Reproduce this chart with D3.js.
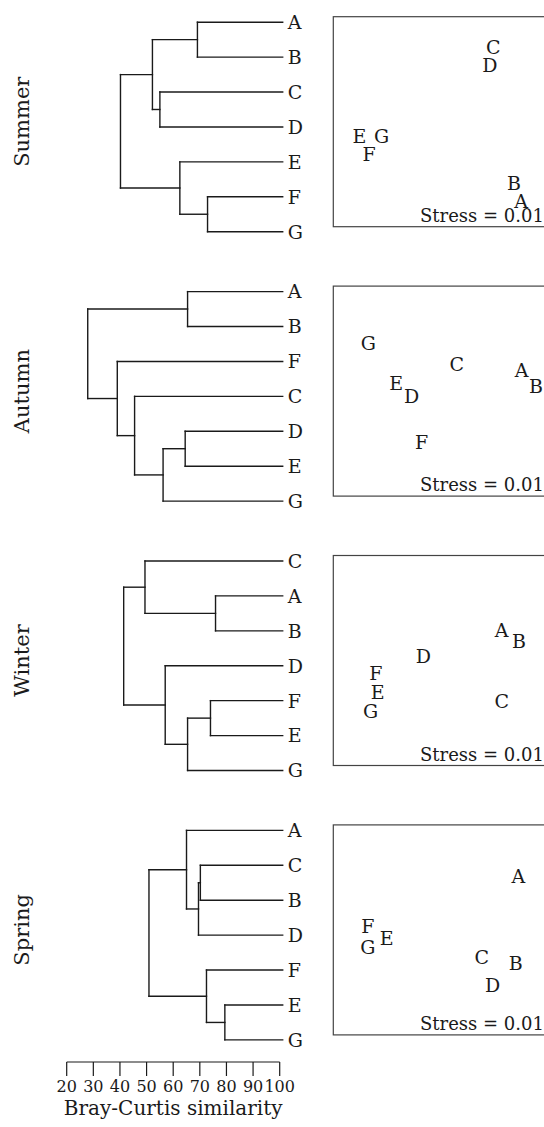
<!DOCTYPE html>
<html>
<head>
<meta charset="utf-8">
<script src="https://cdn.jsdelivr.net/npm/d3@7"></script>
<style>
    body { margin: 0; background: #fff; }
    #chart { width: 544px; height: 1127px; }
    text { font-family: 'DejaVu Serif', serif; fill: #1a1a1a; }
</style>
</head>
<body>
<div id="chart"></div>
<script>
// region Data
const seasons = ['Summer', 'Autumn', 'Winter', 'Spring'];

// dendrograms: [left, right, similarity]
const summerTree = [[['A', 'B', 69.1], ['C', 'D', 55], 52.2], ['E', ['F', 'G', 72.9], 62.5], 40.2];
const autumnTree = [['A', 'B', 65.4], ['F', ['C', [['D', 'E', 64.5], 'G', 56.2], 45.5], 39], 27.9];
const winterTree = [['C', ['A', 'B', 75.9], 49.4], ['D', [['F', 'E', 74], 'G', 65.4], 57], 41.4];
const springTree = [['A', [['C', 'B', 70.2], 'D', 69.5], 65], ['F', ['E', 'G', 79.4], 72.5], 50.9];

const sites = ['A', 'B', 'C', 'D', 'E', 'F', 'G'];
// NMDS ordination
const summerX = [89.4, 86, 76.2, 74.6, 12.4, 17.1, 23];
const summerY = [12.2, 20.7, 85.7, 77, 43.2, 34.6, 43.2];
const autumnX = [89.7, 96.5, 58.8, 37.3, 29.9, 42.1, 16.7];
const autumnY = [59.9, 52.4, 62.7, 47.6, 54, 25.7, 73];
const winterX = [80.2, 88.4, 80.2, 42.9, 21.1, 20.3, 17.8];
const winterY = [64.6, 59, 30.8, 51.9, 34.8, 44, 26];
const springX = [88.1, 86.9, 70.7, 75.9, 25.4, 16.4, 16.4];
const springY = [75.4, 34.1, 36.8, 23.8, 46, 51.9, 42];

const stress = ['0.01', '0.01', '0.01', '0.01'];
const simTicks = [20, 30, 40, 50, 60, 70, 80, 90, 100];
// endregion

const trees = [summerTree, autumnTree, winterTree, springTree];
const nmdsX = [summerX, autumnX, winterX, springX];
const nmdsY = [summerY, autumnY, winterY, springY];

let w = 544,
    h = 1127,
    rowTop = 16.7,
    rowStep = 269.4,
    boxSize = 210,
    boxLeft = 333.3,
    ink = '#1a1a1a';

let svg = d3.select('#chart')
    .append('svg')
    .attr('width', w)
    .attr('height', h);

const x = d3.scaleLinear()
    .domain([20, 100])
    .range([66.7, 279.7]);

function leafOrder(node, out) {
    if (typeof node === 'string') { out.push(node); return out; }
    leafOrder(node[0], out);
    leafOrder(node[1], out);
    return out;
}

function drawRow(i) {
    let top = rowTop + i * rowStep;
    let g = svg.append('g');
    let tree = trees[i];

    const y = d3.scalePoint()
        .domain(leafOrder(tree, []))
        .range([top + 5.5, top + 215]);

    // returns [xpos, ypos] of node, collects its links
    let lines = [];
    function walk(node) {
        if (typeof node === 'string') return [x(100) + 3, y(node)];
        let a = walk(node[0]),
            b = walk(node[1]),
            xs = x(node[2]);
        lines.push([xs, a[1], xs, b[1]]);
        lines.push([xs, a[1], a[0], a[1]]);
        lines.push([xs, b[1], b[0], b[1]]);
        return [xs, (a[1] + b[1]) / 2];
    }
    walk(tree);

    g.selectAll('.link')
        .data(lines).enter()
        .append('line')
        .attr('x1', function (d) { return d[0]; })
        .attr('y1', function (d) { return d[1]; })
        .attr('x2', function (d) { return d[2]; })
        .attr('y2', function (d) { return d[3]; })
        .attr('stroke', ink)
        .attr('stroke-width', 1.4)
        .attr('stroke-linecap', 'square');

    g.selectAll('.leaf')
        .data(y.domain()).enter()
        .append('text')
        .attr('x', x(100) + 8)
        .attr('y', function (d) { return y(d); })
        .attr('dy', '0.36em')
        .style('font-size', '19px')
        .text(function (d) { return d; });

    // season label
    g.append('text')
        .attr('transform', `translate(29,${top + boxSize / 2}) rotate(-90)`)
        .attr('text-anchor', 'middle')
        .style('font-size', '21px')
        .text(seasons[i]);

    // NMDS panel
    const sx = d3.scaleLinear().domain([0, 100]).range([boxLeft, boxLeft + boxSize]);
    const sy = d3.scaleLinear().domain([100, 0]).range([top, top + boxSize]);

    g.append('rect')
        .attr('x', boxLeft)
        .attr('y', top)
        .attr('width', boxSize + 6)
        .attr('height', boxSize)
        .attr('fill', 'none')
        .attr('stroke', '#444')
        .attr('stroke-width', 1.2);

    g.selectAll('.site')
        .data(sites).enter()
        .append('text')
        .attr('x', function (d, j) { return sx(nmdsX[i][j]); })
        .attr('y', function (d, j) { return sy(nmdsY[i][j]); })
        .attr('dy', '0.36em')
        .attr('text-anchor', 'middle')
        .style('font-size', '19px')
        .text(function (d) { return d; });

    g.append('text')
        .attr('x', 420)
        .attr('y', top + 205)
        .style('font-size', '18px')
        .text('Stress = ' + stress[i]);
}

seasons.forEach(function (s, i) { drawRow(i); });

// similarity axis
let axis = svg.append('g')
    .attr('transform', 'translate(0,1062)');
axis.append('line')
    .attr('x1', x(20)).attr('x2', x(100))
    .attr('stroke', ink).attr('stroke-width', 1.2);
axis.selectAll('.tick')
    .data(simTicks).enter()
    .append('line')
    .attr('x1', function (d) { return x(d); })
    .attr('x2', function (d) { return x(d); })
    .attr('y1', 0).attr('y2', 14)
    .attr('stroke', ink).attr('stroke-width', 1.2);
axis.selectAll('.tlabel')
    .data(simTicks).enter()
    .append('text')
    .attr('x', function (d) { return x(d); })
    .attr('y', 30)
    .attr('text-anchor', 'middle')
    .style('font-size', '16px')
    .text(function (d) { return d; });
axis.append('text')
    .attr('x', (x(20) + x(100)) / 2)
    .attr('y', 53)
    .attr('text-anchor', 'middle')
    .style('font-size', '20px')
    .text('Bray-Curtis similarity');
</script>
</body>
</html>
